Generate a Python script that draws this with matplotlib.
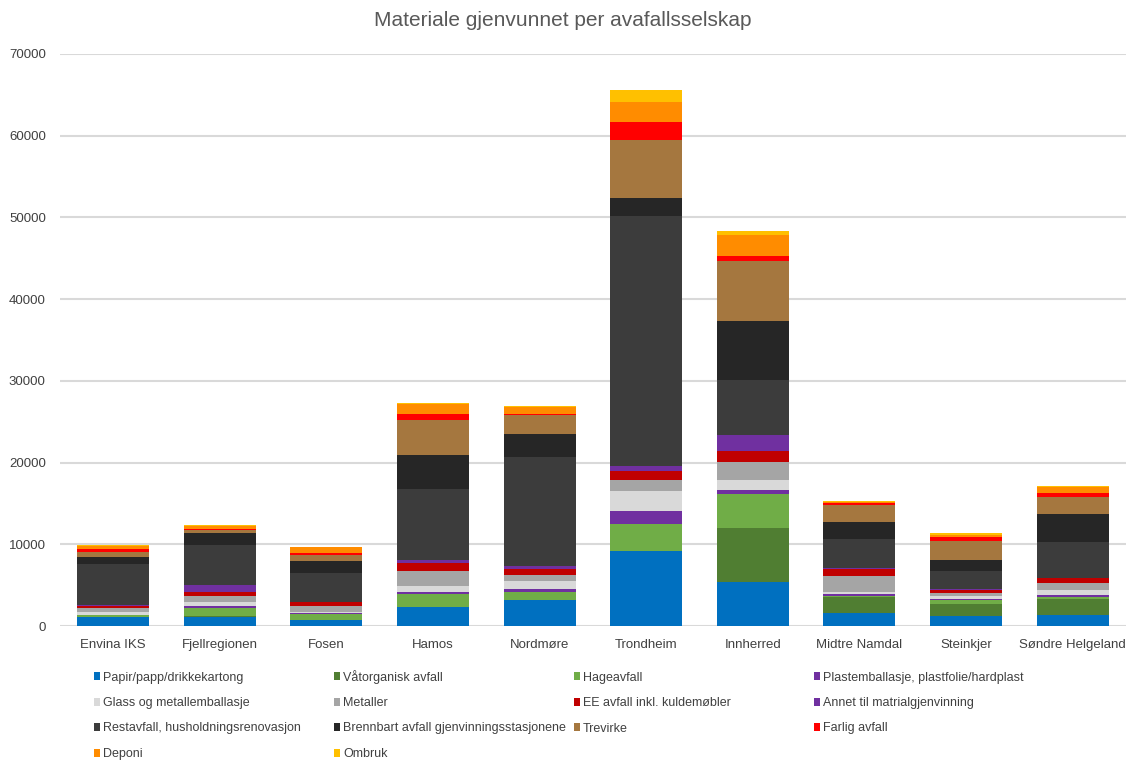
import matplotlib
matplotlib.use("Agg")
from matplotlib import pyplot as plt
from matplotlib.patches import Rectangle
import numpy as np

plt.rcParams['font.family'] = ['Liberation Sans', 'DejaVu Sans']

selskap = ["Envina IKS", "Fjellregionen", "Fosen", "Hamos", "Nordmøre",
           "Trondheim", "Innherred", "Midtre Namdal", "Steinkjer", "Søndre Helgeland"]

fraksjoner = ["Papir/papp/drikkekartong", "Våtorganisk avfall", "Hageavfall",
              "Plastemballasje, plastfolie/hardplast", "Glass og metallemballasje",
              "Metaller", "EE avfall inkl. kuldemøbler", "Annet til matrialgjenvinning",
              "Restavfall, husholdningsrenovasjon", "Brennbart avfall gjenvinningsstasjonene",
              "Trevirke", "Farlig avfall", "Deponi", "Ombruk"]

farger = ["#0070C0", "#507E32", "#70AD47", "#7030A0", "#D9D9D9", "#A5A5A5", "#C00000",
          "#7030A0", "#3C3C3C", "#262626", "#A5773F", "#FF0000", "#FF8C00", "#FFC000"]

# tonn per fraksjon, en verdi per selskap (samme rekkefolge som selskap)
papir       = [1100, 1100,  780, 2280, 3220, 9120, 5390, 1590, 1220, 1390]
vatorganisk = [   0,  100,    0,    0,    0,    0, 6630, 1920, 1510, 1920]
hage        = [ 200, 1050,  730, 1670,  900, 3420, 4120,  200,  490,  290]
plast       = [  60,  160,   60,  200,  410, 1490,  530,  160,   80,  200]
glass       = [ 330,  570,  160,  730,  980, 2460, 1180,  290,  370,  610]
metaller    = [ 530,  730,  730, 1880,  690, 1320, 2280, 1920,  330,  900]
ee          = [ 250,  410,  450,  940,  775, 1140, 1270,  940,  450,  570]
annet       = [ 160,  940,   40,  410,  410,  610, 1930,   40,   40,   40]
restavfall  = [4900, 4900, 3510, 8650, 13300, 30570, 6760, 3590, 2200, 4360]
brennbart   = [ 900, 1470, 1550, 4160, 2860, 2240, 7230, 2040, 1350, 3390]
trevirke    = [ 570,  330,  730, 4320, 2240, 7150, 7330, 2130, 2400, 2080]
farlig      = [ 370,  150,  245,  730,  200, 2150,  610,  200,  410,  570]
deponi      = [ 370,  330,  650, 1220,  815, 2450, 2590,  120,  330,  730]
ombruk      = [ 120,  160,   80,  160,  160, 1450,  530,  120,  200,   50]

serier = [papir, vatorganisk, hage, plast, glass, metaller, ee, annet,
          restavfall, brennbart, trevirke, farlig, deponi, ombruk]

W, H = 1126, 760
fig = plt.figure(figsize=(W / 100, H / 100), dpi=100)
ax = fig.add_axes([0.053, 0.1763, 0.947, 0.7527])

x = np.arange(len(selskap))
bunn = np.zeros(len(selskap))
for navn, verdier, farge in zip(fraksjoner, serier, farger):
    ax.bar(x, verdier, 0.675, bottom=bunn, color=farge, label=navn, linewidth=0)
    bunn += np.array(verdier)

ax.set_xlim(-0.5, len(selskap) - 0.5)
ax.set_ylim(0, 70000)
ax.set_yticks(np.arange(0, 70001, 10000))
ax.set_xticks(x)
ax.set_xticklabels(selskap)
ax.tick_params(axis='both', length=0, labelsize=9.5, labelcolor="#404040")
ax.tick_params(axis='x', pad=9)
ax.tick_params(axis='y', pad=10)
ax.grid(axis='y', color="#D9D9D9", linewidth=1.5)
ax.set_axisbelow(True)
for s in ax.spines.values():
    s.set_visible(False)

fig.text(0.5, 1 - 20 / H, "Materiale gjenvunnet per avafallsselskap", ha='center', va='center',
         fontsize=15, color="#595959")

# legend: 4 kolonner med fast avstand, tegnet manuelt
kol_px = [97, 337, 577, 817]
rad_px = [676, 701.5, 727, 752.5]
for i, (navn, farge) in enumerate(zip(fraksjoner, farger)):
    px = kol_px[i % 4]
    py = rad_px[i // 4]
    fig.patches.append(Rectangle(((px - 3) / W, 1 - (py + 4) / H), 6 / W, 8 / H,
                                 facecolor=farge, edgecolor='none',
                                 transform=fig.transFigure, figure=fig))
    fig.text((px + 6) / W, 1 - (py + 4.5) / H, navn, ha='left', va='baseline',
             fontsize=9, color="#404040")

fig.savefig("out.png", dpi=100)
